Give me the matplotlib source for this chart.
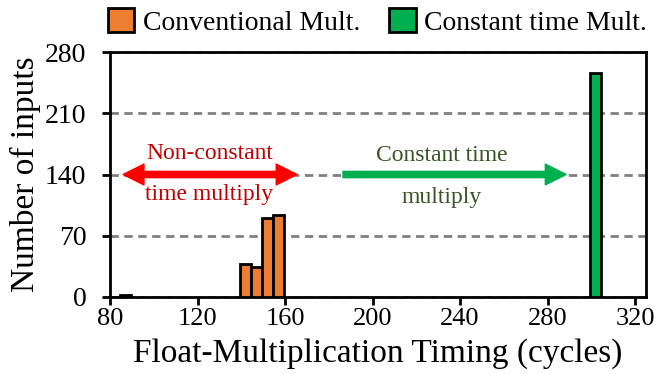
import matplotlib
matplotlib.use("Agg")
import matplotlib.pyplot as plt
from matplotlib.patches import Patch

plt.rcParams['font.family'] = ['Liberation Serif', 'DejaVu Serif']

# Data
conv_cycles = [87, 142, 147, 152, 157]
conv_counts = [2, 38, 34, 90, 94]
const_cycles = [302]
const_counts = [256]

xticks = [80, 120, 160, 200, 240, 280, 320]
yticks = [0, 70, 140, 210, 280]

orange = '#ED7D31'
green = '#00B050'

fig = plt.figure(figsize=(6.61, 3.74), dpi=100)
ax = fig.add_axes([110/661, 1-297/374, 536/661, 245/374])

ax.bar(conv_cycles, conv_counts, width=5, color=orange, edgecolor='black', linewidth=2, zorder=3)
ax.bar(const_cycles, const_counts, width=5, color=green, edgecolor='black', linewidth=2, zorder=3)

ax.set_xlim(80, 325)
ax.set_ylim(0, 280)
ax.set_xticks(xticks)
ax.set_yticks(yticks)
ax.yaxis.grid(True, linestyle=(0, (3, 2)), color='#808080', linewidth=2, zorder=0)
ax.tick_params(width=2, length=6, direction='out')
ax.tick_params(axis='y', pad=11, labelsize=20)
ax.tick_params(axis='x', pad=2, labelsize=19)
for s in ax.spines.values():
    s.set_linewidth(2)

ax.set_xlabel('Float-Multiplication Timing (cycles)', fontsize=24, labelpad=6)
ax.set_ylabel('Number of inputs', fontsize=24)
ax.yaxis.set_label_coords(-0.128, 0.5)

# arrows (red double-headed drawn as two halves from the middle)
red_mid = 125.5
arrow_kw = dict(width=4.5, headwidth=15, headlength=15, shrink=0)
for end in (86.0, 165.5):
    ax.annotate('', xy=(end, 140), xytext=(red_mid, 140),
                arrowprops=dict(color='#FF0000', **arrow_kw), zorder=4)
ax.annotate('', xy=(288.5, 140), xytext=(186.5, 140),
            arrowprops=dict(color=green, **arrow_kw), zorder=4)
ax.text(125.5, 164, 'Non-constant', color='#C00000', fontsize=17, ha='center', va='center')
ax.text(125.5, 117, 'time multiply', color='#C00000', fontsize=17, ha='center', va='center')
ax.text(231.5, 162, 'Constant time', color='#375623', fontsize=17, ha='center', va='center')
ax.text(231.5, 114, 'multiply', color='#375623', fontsize=17, ha='center', va='center')

handles = [Patch(facecolor=orange, edgecolor='black', linewidth=2, label='Conventional Mult.'),
           Patch(facecolor=green, edgecolor='black', linewidth=2, label='Constant time Mult.')]
fig.legend(handles=handles, loc='center left', bbox_to_anchor=(108/661, 1-22/374), ncol=2,
           frameon=False, fontsize=20, handlelength=0.95, handleheight=0.95,
           handletextpad=0.3, columnspacing=1.05, borderpad=0, borderaxespad=0)

fig.savefig('out.png', dpi=100)
